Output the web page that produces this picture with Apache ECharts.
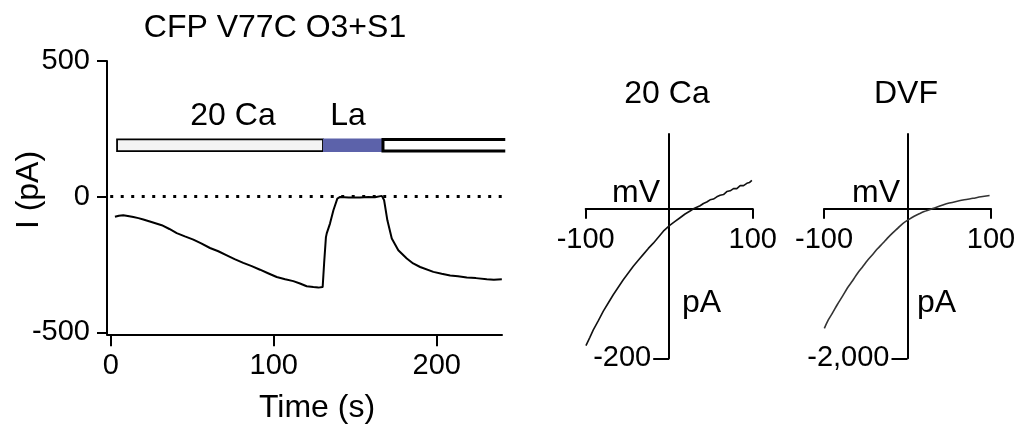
<!DOCTYPE html>
<html>
<head>
<meta charset="utf-8">
<script src="https://cdn.jsdelivr.net/npm/echarts@6/dist/echarts.min.js"></script>
<style>
  html, body { margin: 0; padding: 0; background: #fff; }
  #chart { width: 1024px; height: 430px; }
</style>
</head>
<body>
<div id="chart"></div>
<script>
// Whole-cell current over time (s, pA)
const timeS = [2.6, 5.0, 7.7, 10.5, 13.9, 17.0, 20.0, 25.0, 31.3, 36.0, 40.5, 45.5, 50.7, 55.5,
  60.9, 66.0, 71.2, 76.0, 81.3, 86.5, 91.6, 96.5, 101.8, 107.0, 112.0, 116.1, 120.2, 124.3,
  127.4, 130.0, 130.9, 132.0, 132.5, 134.5, 136.6, 139.0, 140.7, 146.0, 152.9, 158.0, 162.0,
  166.3, 167.7, 169.7, 172.4, 176.4, 181.6, 185.5, 189.8, 197.9, 203.0, 208.2, 213.0, 218.4,
  224.0, 230.7, 235.0, 239.9];
const currentPA = [-74, -70, -68, -71, -75, -79, -84, -93, -105, -119, -134, -146, -158, -172,
  -189, -201, -216, -230, -244, -256, -269, -282, -296, -304, -311, -320, -330, -333,
  -335, -333, -245, -150, -135, -99, -50, -7, -1, -3, -3, -1, -2,
  3, -13, -87, -154, -197, -228, -246, -259, -277, -284, -290, -293, -298,
  -300, -304, -306, -304];

// Perfusion protocol bar (s) and its vertical band (pA)
const solutionNames = ['20 Ca', 'La', ''];
const solutionStart = [3.9, 130.2, 167.0];
const solutionEnd = [130.2, 167.0, 242.0];
const solutionBand = [168, 211];
const solutionLabelTime = [75, 145.5];
const solutionLabelCurrent = 296;

// Current-voltage relations (mV, pA)
const ivVoltage20Ca = [-99.7, -95, -90.9, -85, -78.9, -73, -67, -61, -55, -49, -43, -37, -31, -25,
  -19, -13, -7, 1, 7, 13, 19, 25, 29, 33, 37, 41, 45, 49, 53, 57, 61, 65, 69, 73, 77, 81, 85, 89,
  93, 96, 99];
const ivCurrent20Ca = [-183, -172, -162, -150, -137, -126, -115, -105, -95, -86, -77, -69, -61,
  -53, -46, -38, -30, -22, -17, -12, -7, -3, 0, 2, 4, 7, 9, 12, 13, 16, 18, 19, 23, 24, 27, 27,
  31, 31, 34, 35, 38];
const ivVoltageDVF = [-99.6, -95, -89.6, -84, -77.6, -72, -65.6, -60, -53.7, -48, -41.7, -36,
  -29.7, -24, -17.7, -11.5, -5.7, 2.3, 8, 14.3, 20, 26.3, 34, 42.3, 50, 58.3, 68, 78.3, 88, 98.3];
const ivCurrentDVF = [-1600, -1490, -1390, -1280, -1165, -1060, -960, -865, -775, -692, -612,
  -535, -462, -392, -322, -258, -198, -138, -100, -66, -38, -14, 18, 50, 76, 98, 120, 140, 160, 178];

// Tick positions
const timeTicks = [0, 100, 200];
const currentTicks = [-500, 0, 500];
const ivVoltageTicks = [-100, 100];
const ivCurrentTicks20Ca = [-200];
const ivCurrentTicksDVF = [-2000];

const FONT = "'Liberation Sans', Arial, Helvetica, sans-serif";
const BLACK = '#000';
const TEXT_SIZE = 32;

const chart = echarts.init(document.getElementById('chart'), null, { renderer: 'canvas' });

function pairs(xs, ys) { return xs.map((x, i) => [x, ys[i]]); }

const tickLabel = { color: BLACK, fontFamily: FONT, fontSize: 29 };

// The IV panels cross at (0 mV, 0 pA): both axes are shifted into the plot with offsets.
const IV_GRID_H = 224.3, IV_GRID_W = 167;
function ivAxes(gridIndex, yMin, yMax, yTicks) {
  const zeroFromBottom = IV_GRID_H * (0 - yMin) / (yMax - yMin);
  return {
    x: {
      type: 'value', gridIndex, min: -100, max: 100, position: 'bottom', offset: -zeroFromBottom,
      axisLine: { onZero: false, lineStyle: { color: BLACK, width: 2 } },
      axisTick: { show: true, length: 10, customValues: ivVoltageTicks, lineStyle: { color: BLACK, width: 2 } },
      axisLabel: Object.assign({ margin: 17, customValues: ivVoltageTicks }, tickLabel),
      splitLine: { show: false }
    },
    y: {
      type: 'value', gridIndex, min: yMin, max: yMax, position: 'left', offset: -IV_GRID_W / 2,
      axisLine: { onZero: false, lineStyle: { color: BLACK, width: 2 } },
      axisTick: { show: true, length: 16, customValues: yTicks, lineStyle: { color: BLACK, width: 2 } },
      axisLabel: Object.assign({ margin: 18, customValues: yTicks,
        formatter: v => Number(v).toLocaleString('en-US') }, tickLabel),
      splitLine: { show: false }
    }
  };
}

const iv1 = ivAxes(1, -200, 100, ivCurrentTicks20Ca);
const iv2 = ivAxes(2, -2000, 1000, ivCurrentTicksDVF);

function text(x, y, str, align, rotation) {
  return {
    type: 'text', x, y, rotation: rotation || 0, silent: true,
    style: { text: str, fill: BLACK, font: TEXT_SIZE + 'px ' + FONT, align: align || 'center', verticalAlign: 'middle' }
  };
}

const option = {
  animation: false,
  backgroundColor: '#fff',
  grid: [
    { left: 107, top: 61, width: 395, height: 273.3 },
    { left: 585.7, top: 134, width: IV_GRID_W, height: IV_GRID_H },
    { left: 824, top: 134, width: IV_GRID_W, height: IV_GRID_H }
  ],
  xAxis: [
    {
      type: 'value', gridIndex: 0, min: -2.27, max: 240,
      axisLine: { onZero: false, lineStyle: { color: BLACK, width: 2 } },
      axisTick: { show: true, length: 12, customValues: timeTicks, lineStyle: { color: BLACK, width: 2 } },
      axisLabel: Object.assign({ margin: 17, customValues: timeTicks }, tickLabel),
      splitLine: { show: false }
    },
    iv1.x, iv2.x
  ],
  yAxis: [
    {
      type: 'value', gridIndex: 0, min: -507, max: 500,
      axisLine: { onZero: false, lineStyle: { color: BLACK, width: 2 } },
      axisTick: { show: true, length: 10, customValues: currentTicks, lineStyle: { color: BLACK, width: 2 } },
      axisLabel: Object.assign({ margin: 17, customValues: currentTicks }, tickLabel),
      splitLine: { show: false }
    },
    iv1.y, iv2.y
  ],
  series: [
    {
      type: 'custom', xAxisIndex: 0, yAxisIndex: 0, clip: false, silent: true,
      data: solutionStart.map((s, i) => [s, solutionEnd[i], i]),
      renderItem: function (params, api) {
        const i = api.value(2);
        const p0 = api.coord([api.value(0), solutionBand[1]]);
        const p1 = api.coord([api.value(1), solutionBand[0]]);
        const x = p0[0], y = p0[1], w = p1[0] - p0[0], h = p1[1] - p0[1];
        if (i === 0) {
          return { type: 'rect', shape: { x, y, width: w, height: h },
            style: { fill: '#f3f3f3', stroke: BLACK, lineWidth: 1.8 } };
        }
        if (i === 1) {
          return { type: 'rect', shape: { x: x, y: y - 1, width: w, height: h + 2 },
            style: { fill: '#5c62aa', stroke: null } };
        }
        return {
          type: 'group', children: [
            { type: 'rect', shape: { x, y, width: w, height: h }, style: { fill: '#fff', stroke: null } },
            { type: 'polyline', shape: { points: [[x + w, y], [x, y], [x, y + h], [x + w, y + h]] },
              style: { fill: null, stroke: BLACK, lineWidth: 3 } }
          ]
        };
      }
    },
    {
      // Solution names written above the protocol bar
      type: 'custom', xAxisIndex: 0, yAxisIndex: 0, clip: false, silent: true,
      data: solutionLabelTime.map((t, i) => [t, solutionLabelCurrent, i]),
      renderItem: function (params, api) {
        const p = api.coord([api.value(0), api.value(1)]);
        return { type: 'text', x: p[0], y: p[1],
          style: { text: solutionNames[api.value(2)], fill: BLACK, font: TEXT_SIZE + 'px ' + FONT,
            align: 'center', verticalAlign: 'middle' } };
      }
    },
    {
      type: 'line', xAxisIndex: 0, yAxisIndex: 0, data: pairs(timeS, currentPA),
      showSymbol: false, symbol: 'none', silent: true,
      lineStyle: { color: BLACK, width: 2 },
      markLine: {
        silent: true, symbol: ['none', 'none'], label: { show: false },
        lineStyle: { color: BLACK, width: 3, type: [3, 7.5], cap: 'butt' },
        data: [[{ coord: [-0.3, 0] }, { coord: [240, 0] }]]
      }
    },
    {
      type: 'line', xAxisIndex: 1, yAxisIndex: 1, data: pairs(ivVoltage20Ca, ivCurrent20Ca),
      showSymbol: false, symbol: 'none', silent: true,
      lineStyle: { color: '#111', width: 1.6 }
    },
    {
      type: 'line', xAxisIndex: 2, yAxisIndex: 2, data: pairs(ivVoltageDVF, ivCurrentDVF),
      showSymbol: false, symbol: 'none', silent: true, smooth: 0.3,
      lineStyle: { color: '#333', width: 1.6 }
    }
  ],
  graphic: [
    text(275, 28, 'CFP V77C O3+S1'),
    text(29, 190, 'I (pA)', 'center', Math.PI / 2),
    text(317, 408, 'Time (s)'),
    text(667, 94, '20 Ca'),
    text(906, 94, 'DVF'),
    text(660, 193, 'mV', 'right'),
    text(682, 303, 'pA', 'left'),
    text(900, 193, 'mV', 'right'),
    text(917, 303, 'pA', 'left')
  ]
};

chart.setOption(option);
</script>
</body>
</html>
